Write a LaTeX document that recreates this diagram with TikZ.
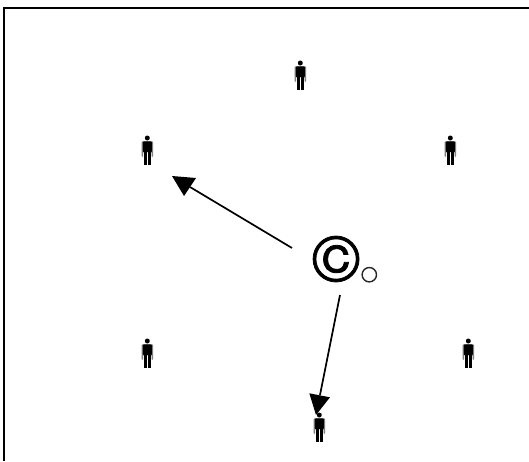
\documentclass[tikz,border=0pt]{standalone}
\usepackage{fontspec}
\setmainfont{Liberation Sans}
\newfontfamily\markfont[FakeBold=1.2]{TeX Gyre Heros}
\tikzset{
  x=1pt,y=-1pt,
  frameline/.style={line width=2pt,black},
  pointer/.style={line width=1.7pt,black},
  headtip/.style={fill=black,draw=none},
  ring/.style={circle,draw=black!85,line width=1.4pt,fill=white,minimum size=14.4pt,inner sep=0pt},
  mark c/.style={inner sep=0pt,font=\markfont\fontsize{66}{66}\selectfont},
  person/.pic={
    \fill[black] (0.3,-12) circle[radius=2.5];
    \fill[black!50,rounded corners=0.8pt] (-5.4,-8.6) -- (6,-8.6) -- (6,7) -- (4.6,7) -- (4.6,2) -- (-4,2) -- (-4,7) -- (-5.4,7) -- cycle;
    \fill[black,rounded corners=0.8pt] (-4.2,-8.6) -- (4.8,-8.6) -- (4.8,2) -- (-4.2,2) -- cycle;
    \fill[black] (-3,1) rectangle (0.1,14.5);
    \fill[black] (0.5,1) rectangle (3.6,14.5);
  }
}
\begin{document}
\begin{tikzpicture}
\useasboundingbox (0,0) rectangle (529,461);
\coordinate (tl) at (4,8);
\coordinate (tr) at (529,8);
\coordinate (bl) at (4,461);
\draw[frameline] (tr) -- (tl) -- (bl);
\pic at (300,75) {person};
\pic at (147,150) {person};
\pic at (450,150) {person};
\pic at (147,353) {person};
\pic at (468,353) {person};
\pic at (319,427) {person};
\node[mark c] (cmark) at (336,259) {©};
\node[ring] (dot) at (369.3,274.7) {};
\coordinate (a1) at (292,248);
\coordinate (a1base) at (190,187);
\coordinate (a1tip) at (172,176);
\coordinate (a1l) at (196,178);
\coordinate (a1r) at (184,196);
\draw[pointer] (a1) -- (a1base);
\fill[headtip] (a1tip) -- (a1l) -- (a1r) -- cycle;
\coordinate (a2) at (340,295);
\coordinate (a2base) at (320,395);
\coordinate (a2tip) at (316,415);
\coordinate (a2l) at (309.3,393.3);
\coordinate (a2r) at (330,397.3);
\draw[pointer] (a2) -- (a2base);
\fill[headtip] (a2tip) -- (a2l) -- (a2r) -- cycle;
\end{tikzpicture}
\end{document}
